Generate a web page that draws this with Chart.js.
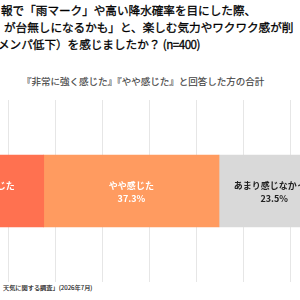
<!DOCTYPE html>
<html><head><meta charset="utf-8">
<script src="https://cdn.jsdelivr.net/npm/chart.js@4"></script>
<style>
html,body{margin:0;padding:0;width:300px;height:300px;overflow:hidden;background:#fff;position:relative;font-family:"Noto Sans CJK JP",sans-serif;}
.t{position:absolute;white-space:nowrap;color:#111;}
#title{left:0;top:2px;font-size:11.6px;line-height:17px;color:#000;-webkit-text-stroke:0.3px #000;}
#title div{position:relative;white-space:nowrap;}
#sub{left:22px;top:74px;font-size:9.5px;color:#444;-webkit-text-stroke:0.15px #444;}
#foot{left:3px;top:283px;font-size:6.2px;color:#222;-webkit-text-stroke:0.15px #222;}
#wrap{position:absolute;left:-86px;top:100px;width:470px;height:182px;}
</style></head><body>
<div id="title" class="t">
<div style="left:1px">報で「雨マーク」や高い降水確率を目にした際、</div>
<div style="left:4px">が台無しになるかも」と、楽しむ気力やワクワク感が削</div>
<div style="left:-2px">メンパ低下）を感じましたか？<span style="margin-left:2.5px;letter-spacing:-0.5px">(n=400)</span></div>
</div>
<div id="sub" class="t">『非常に強く感じた』『やや感じた』と回答した方の合計</div>
<div id="wrap"><canvas id="c"></canvas></div>
<div id="foot" class="t">天気に関する調査」(2026年7月)</div>
<script>
const categories = ['合計'];
const seriesNames = ['非常に強く感じた', 'やや感じた', 'あまり感じなかった', '全く感じなかった'];
const seriesValues = [27.6, 37.3, 23.5, 11.6];
const seriesColors = ['#FF7150', '#FF9B60', '#D9D9D9', '#BFBFBF'];
const labelColors = ['#ffffff', '#ffffff', '#222222', '#222222'];
const axisMin = 0, axisMax = 100, axisStep = 10;

const labelPlugin = {
  id: 'segLabels',
  afterDatasetsDraw(chart) {
    const ctx = chart.ctx;
    const xs = chart.scales.x;
    let cum = 0;
    chart.data.datasets.forEach((ds, i) => {
      const meta = chart.getDatasetMeta(i);
      const bar = meta.data[0];
      const v = ds.data[0];
      const x0 = xs.getPixelForValue(cum);
      const x1 = xs.getPixelForValue(cum + v);
      cum += v;
      const cx = (x0 + x1) / 2;
      const cy = bar.y;
      ctx.save();
      ctx.fillStyle = labelColors[i];
      ctx.textAlign = 'center';
      ctx.textBaseline = 'middle';
      ctx.font = 'bold 9px "Noto Sans CJK JP"';
      ctx.fillText(ds.label, cx, cy - 5);
      ctx.fillText(v.toFixed(1) + '%', cx, cy + 8);
      ctx.restore();
    });
  }
};

new Chart(document.getElementById('c'), {
  type: 'bar',
  data: {
    labels: categories,
    datasets: seriesNames.map((n, i) => ({
      label: n,
      data: [seriesValues[i]],
      backgroundColor: seriesColors[i],
      borderWidth: 0,
      barThickness: 72
    }))
  },
  options: {
    indexAxis: 'y',
    responsive: true,
    maintainAspectRatio: false,
    animation: false,
    layout: { padding: 0 },
    plugins: { legend: { display: false }, tooltip: { enabled: false }, title: { display: false } },
    scales: {
      x: {
        stacked: true, min: axisMin, max: axisMax,
        ticks: { display: false, stepSize: axisStep },
        grid: { color: '#E6E6E6', lineWidth: 1, drawTicks: false },
        border: { display: false }
      },
      y: { stacked: true, display: false }
    }
  },
  plugins: [labelPlugin]
});
</script>
</body></html>
